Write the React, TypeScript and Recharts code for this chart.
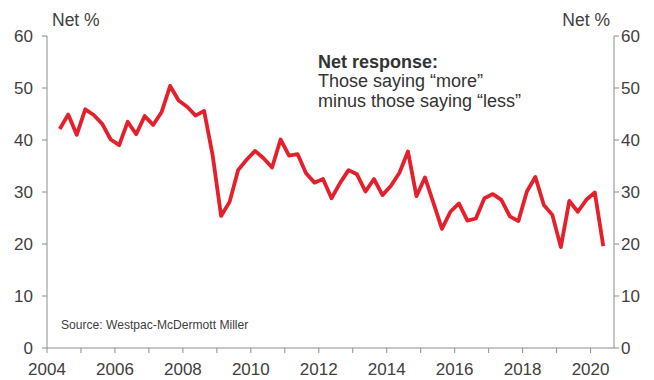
import React from 'react';
import { LineChart, Line, XAxis, YAxis, Customized } from 'recharts';

const quarters: string[] = [
  '2004Q2','2004Q3','2004Q4','2005Q1','2005Q2','2005Q3','2005Q4','2006Q1','2006Q2','2006Q3','2006Q4',
  '2007Q1','2007Q2','2007Q3','2007Q4','2008Q1','2008Q2','2008Q3','2008Q4','2009Q1','2009Q2','2009Q3','2009Q4',
  '2010Q1','2010Q2','2010Q3','2010Q4','2011Q1','2011Q2','2011Q3','2011Q4','2012Q1','2012Q2','2012Q3','2012Q4',
  '2013Q1','2013Q2','2013Q3','2013Q4','2014Q1','2014Q2','2014Q3','2014Q4','2015Q1','2015Q2','2015Q3','2015Q4',
  '2016Q1','2016Q2','2016Q3','2016Q4','2017Q1','2017Q2','2017Q3','2017Q4','2018Q1','2018Q2','2018Q3','2018Q4',
  '2019Q1','2019Q2','2019Q3','2019Q4','2020Q1','2020Q2',
];

const netResponse: number[] = [
  42.1, 44.9, 41.0, 45.9, 44.8, 43.1, 40.1, 39.0, 43.5, 41.1, 44.6,
  42.9, 45.4, 50.4, 47.6, 46.4, 44.7, 45.6, 37.1, 25.4, 28.1, 34.2, 36.2,
  37.9, 36.5, 34.7, 40.1, 37.0, 37.3, 33.6, 31.8, 32.5, 28.8, 31.7, 34.2,
  33.4, 30.1, 32.5, 29.4, 31.2, 33.7, 37.8, 29.2, 32.8, 27.9, 22.9, 26.2,
  27.8, 24.5, 24.9, 28.8, 29.6, 28.5, 25.3, 24.4, 30.1, 32.9, 27.5, 25.6,
  19.4, 28.3, 26.2, 28.5, 29.9, 19.6,
];

const yearTicks: number[] = [2004,2005,2006,2007,2008,2009,2010,2011,2012,2013,2014,2015,2016,2017,2018,2019,2020];
const yTicks: number[] = [0, 10, 20, 30, 40, 50, 60];

const quarterToYear = (q: string) => {
  const y = parseInt(q.slice(0, 4), 10);
  const n = parseInt(q.slice(5), 10);
  return y + (n - 1) / 4 + 0.125;
};

const data = quarters.map((q, i) => ({ t: quarterToYear(q), v: netResponse[i] }));

const FONT = '"Liberation Sans", Arial, sans-serif';
const TXT = '#404040';
const AXIS = '#8c8c8c';

const Annotations = () => (
  <g fontFamily={FONT}>
    <text x={52} y={26} fontSize={17.5} fill={TXT}>Net %</text>
    <text x={610} y={26} fontSize={17.5} fill={TXT} textAnchor="end">Net %</text>
    <text x={318} y={68} fontSize={18} fontWeight="bold" fill="#333">Net response:</text>
    <text x={318} y={87} fontSize={18} fill="#333">Those saying “more”</text>
    <text x={318} y={107} fontSize={18} fill="#333">minus those saying “less”</text>
    <text x={61} y={329} fontSize={12.1} fill={TXT}>Source: Westpac-McDermott Miller</text>
  </g>
);

export default function App() {
  return (
    <div style={{ position: 'absolute', left: 0, top: 0, width: 654, height: 380, background: '#fff' }}>
      <LineChart width={654} height={380} data={data} margin={{ top: 36, right: 0, bottom: 0, left: 0 }}>
        <XAxis
          dataKey="t"
          type="number"
          domain={[2004, 2020.69]}
          ticks={yearTicks}
          tickFormatter={(v: number) => (v % 2 === 0 ? String(v) : '')}
          height={32}
          tickSize={5}
          tickMargin={10}
          stroke={AXIS}
          tick={{ fill: TXT, fontSize: 17, fontFamily: FONT }}
          allowDataOverflow
          interval={0}
        />
        <YAxis
          yAxisId="left"
          orientation="left"
          domain={[0, 60]}
          ticks={yTicks}
          width={47}
          tickSize={5}
          tickMargin={9}
          stroke={AXIS}
          tick={{ fill: TXT, fontSize: 17, fontFamily: FONT }}
          interval={0}
        />
        <YAxis
          yAxisId="right"
          orientation="right"
          domain={[0, 60]}
          ticks={yTicks}
          width={40}
          tickSize={5}
          tickMargin={2}
          stroke={AXIS}
          tick={{ fill: TXT, fontSize: 17, fontFamily: FONT }}
          interval={0}
        />
        <Line
          yAxisId="right"
          type="linear"
          dataKey="v"
          stroke="none"
          strokeWidth={0}
          dot={false}
          activeDot={false}
          legendType="none"
          isAnimationActive={false}
        />
        <Line
          yAxisId="left"
          type="linear"
          dataKey="v"
          stroke="#e3202b"
          strokeWidth={3.8}
          dot={false}
          isAnimationActive={false}
          strokeLinejoin="round"
        />
        <Customized component={Annotations} />
      </LineChart>
    </div>
  );
}
